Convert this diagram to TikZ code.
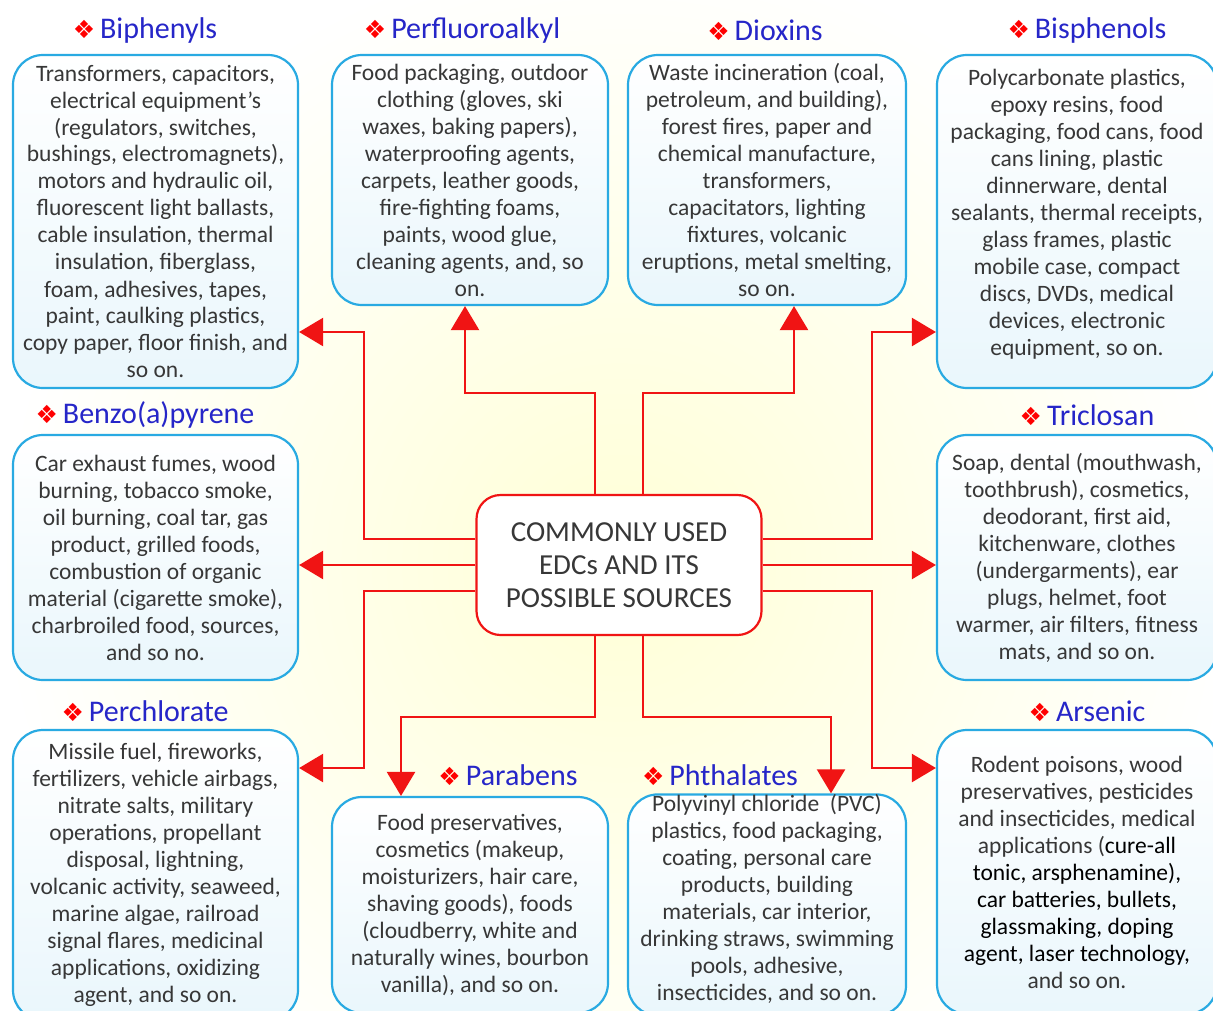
\documentclass[tikz,border=0pt]{standalone}
\usepackage{fontspec}
\setmainfont{Carlito}
\newfontfamily\symfont{DejaVu Sans}
\usetikzlibrary{arrows.meta}

\definecolor{boxblue}{RGB}{41,170,226}
\definecolor{titleblue}{RGB}{38,38,200}
\definecolor{textgray}{RGB}{55,55,55}
\definecolor{linkred}{RGB}{240,20,20}

\newcommand{\edc}[1]{{\symfont\color{red}\fontsize{25}{25}\selectfont ❖}\,#1}

\begin{document}
\begin{tikzpicture}[x=1pt,y=-1pt]

    \tikzstyle{src} = [draw=boxblue, line width=2.2pt, rounded corners=30pt,
        top color=white, middle color=white, bottom color=boxblue!10,
        align=center, text=textgray, inner sep=0pt,
        font=\fontsize{23.5}{27}\selectfont]
    \tikzstyle{title} = [text=titleblue, font=\fontsize{30}{30}\selectfont]
    \tikzstyle{link} = [draw=linkred, line width=2.4pt,
        -{Triangle[width=28pt,length=24pt]}]

    \useasboundingbox (0,0) rectangle (1213,1010);
    \clip (0,0) rectangle (1213,1010);

    % background glow
    \shade[inner color=yellow!16, outer color=white] (619,565) circle (620);

    % Centre
    \node[draw=linkred, line width=2.2pt, rounded corners=24pt, fill=white,
        minimum width=285pt, minimum height=140pt, align=center,
        text=textgray, font=\fontsize{29}{33}\selectfont]
        (core) at (619,565) {COMMONLY USED\\EDCs AND ITS\\POSSIBLE SOURCES};

    % Top row
    \node[src, minimum width=285pt, minimum height=333pt] (biph) at (155.5,221.5)
        {Transformers, capacitors,\\electrical equipment’s\\(regulators, switches,\\
         bushings, electromagnets),\\motors and hydraulic oil,\\
         fluorescent light ballasts,\\cable insulation, thermal\\
         insulation, fiberglass,\\foam, adhesives, tapes,\\
         paint, caulking plastics,\\copy paper, floor finish, and\\so on.};
    \node[src, minimum width=276pt, minimum height=250pt] (perf) at (470,180)
        {Food packaging, outdoor\\clothing (gloves, ski\\waxes, baking papers),\\
         waterproofing agents,\\carpets, leather goods,\\fire-fighting foams,\\
         paints, wood glue,\\cleaning agents, and, so\\on.};
    \node[src, minimum width=278pt, minimum height=250pt] (diox) at (767,180)
        {Waste incineration (coal,\\petroleum, and building),\\
         forest fires, paper and\\chemical manufacture,\\transformers,\\
         capacitators, lighting\\fixtures, volcanic\\
         eruptions, metal smelting,\\so on.};
    \node[src, minimum width=280pt, minimum height=333pt] (bisp) at (1077,221.5)
        {Polycarbonate plastics,\\epoxy resins, food\\
         packaging, food cans, food\\cans lining, plastic\\
         dinnerware, dental\\sealants, thermal receipts,\\
         glass frames, plastic\\mobile case, compact\\
         discs, DVDs, medical\\devices, electronic\\equipment, so on.\\[-9pt]};

    % Middle row
    \node[src, minimum width=285pt, minimum height=245pt] (benzo) at (155.5,557.5)
        {Car exhaust fumes, wood\\burning, tobacco smoke,\\
         oil burning, coal tar, gas\\product, grilled foods,\\
         combustion of organic\\material (cigarette smoke),\\
         charbroiled food, sources,\\and so no.};
    \node[src, minimum width=280pt, minimum height=245pt] (tric) at (1077,557.5)
        {Soap, dental (mouthwash,\\toothbrush), cosmetics,\\
         deodorant, first aid,\\kitchenware, clothes\\
         (undergarments), ear\\plugs, helmet, foot\\
         warmer, air filters, fitness\\mats, and so on.};

    % Bottom row
    \node[src, minimum width=285pt, minimum height=290pt] (perc) at (155.5,875)
        {Missile fuel, fireworks,\\fertilizers, vehicle airbags,\\
         nitrate salts, military\\operations, propellant\\
         disposal, lightning,\\volcanic activity, seaweed,\\
         marine algae, railroad\\signal flares, medicinal\\
         applications, oxidizing\\agent, and so on.};
    \node[src, minimum width=276pt, minimum height=216pt] (para) at (470,905)
        {Food preservatives,\\cosmetics (makeup,\\moisturizers, hair care,\\
         shaving goods), foods\\(cloudberry, white and\\
         naturally wines, bourbon\\vanilla), and so on.};
    \node[src, minimum width=278pt, minimum height=216pt] (phth) at (767,905)
        {Polyvinyl chloride\ \ (PVC)\\plastics, food packaging,\\
         coating, personal care\\products, building\\
         materials, car interior,\\drinking straws, swimming\\
         pools, adhesive,\\insecticides, and so on.\\[-12pt]};
    \node[src, minimum width=280pt, minimum height=284pt] (arse) at (1077,872)
        {Rodent poisons, wood\\preservatives, pesticides\\
         and insecticides, medical\\applications ({\color{black}cure-all}\\
         {\color{black}tonic, arsphenamine),}\\{\color{black}car batteries, bullets,}\\
         {\color{black}glassmaking, doping}\\{\color{black}agent, laser technology,}\\
         and so on.};

    % Titles
    \node[title] (t-biph) at (145,30) {\edc{Biphenyls}};
    \node[title] (t-perf) at (462,30) {\edc{Perfluoroalkyl}};
    \node[title] (t-diox) at (765,30) {\edc{Dioxins}};
    \node[title] (t-bisp) at (1087,30) {\edc{Bisphenols}};
    \node[title] (t-benzo) at (145,415) {\edc{Benzo(a)pyrene}};
    \node[title] (t-tric) at (1087,415) {\edc{Triclosan}};
    \node[title] (t-perc) at (145,711) {\edc{Perchlorate}};
    \node[title] (t-arse) at (1087,711) {\edc{Arsenic}};
    \node[title] (t-para) at (508,775) {\edc{Parabens}};
    \node[title] (t-phth) at (720,775) {\edc{Phthalates}};

    % Links
    \draw[link] ([yshift=26pt]core.west) -| (364,332) -- (biph.east |- 0,332);
    \draw[link] ([xshift=-24pt]core.north) |- (465,393) -- (perf.south -| 465,0);
    \draw[link] ([xshift=24pt]core.north) |- (794,393) -- (diox.south -| 794,0);
    \draw[link] ([yshift=26pt]core.east) -| (872,332) -- (bisp.west |- 0,332);
    \draw[link] (core.west) -- (benzo.east |- core.west);
    \draw[link] (core.east) -- (tric.west |- core.east);
    \draw[link] ([yshift=-26pt]core.west) -| (364,768) -- (perc.east |- 0,768);
    \draw[link] ([xshift=-24pt]core.south) |- (401,717) -- (para.north -| 401,0);
    \draw[link] ([xshift=24pt]core.south) |- (831,717) -- (phth.north -| 831,0);
    \draw[link] ([yshift=-26pt]core.east) -| (872,768) -- (arse.west |- 0,768);

\end{tikzpicture}
\end{document}
